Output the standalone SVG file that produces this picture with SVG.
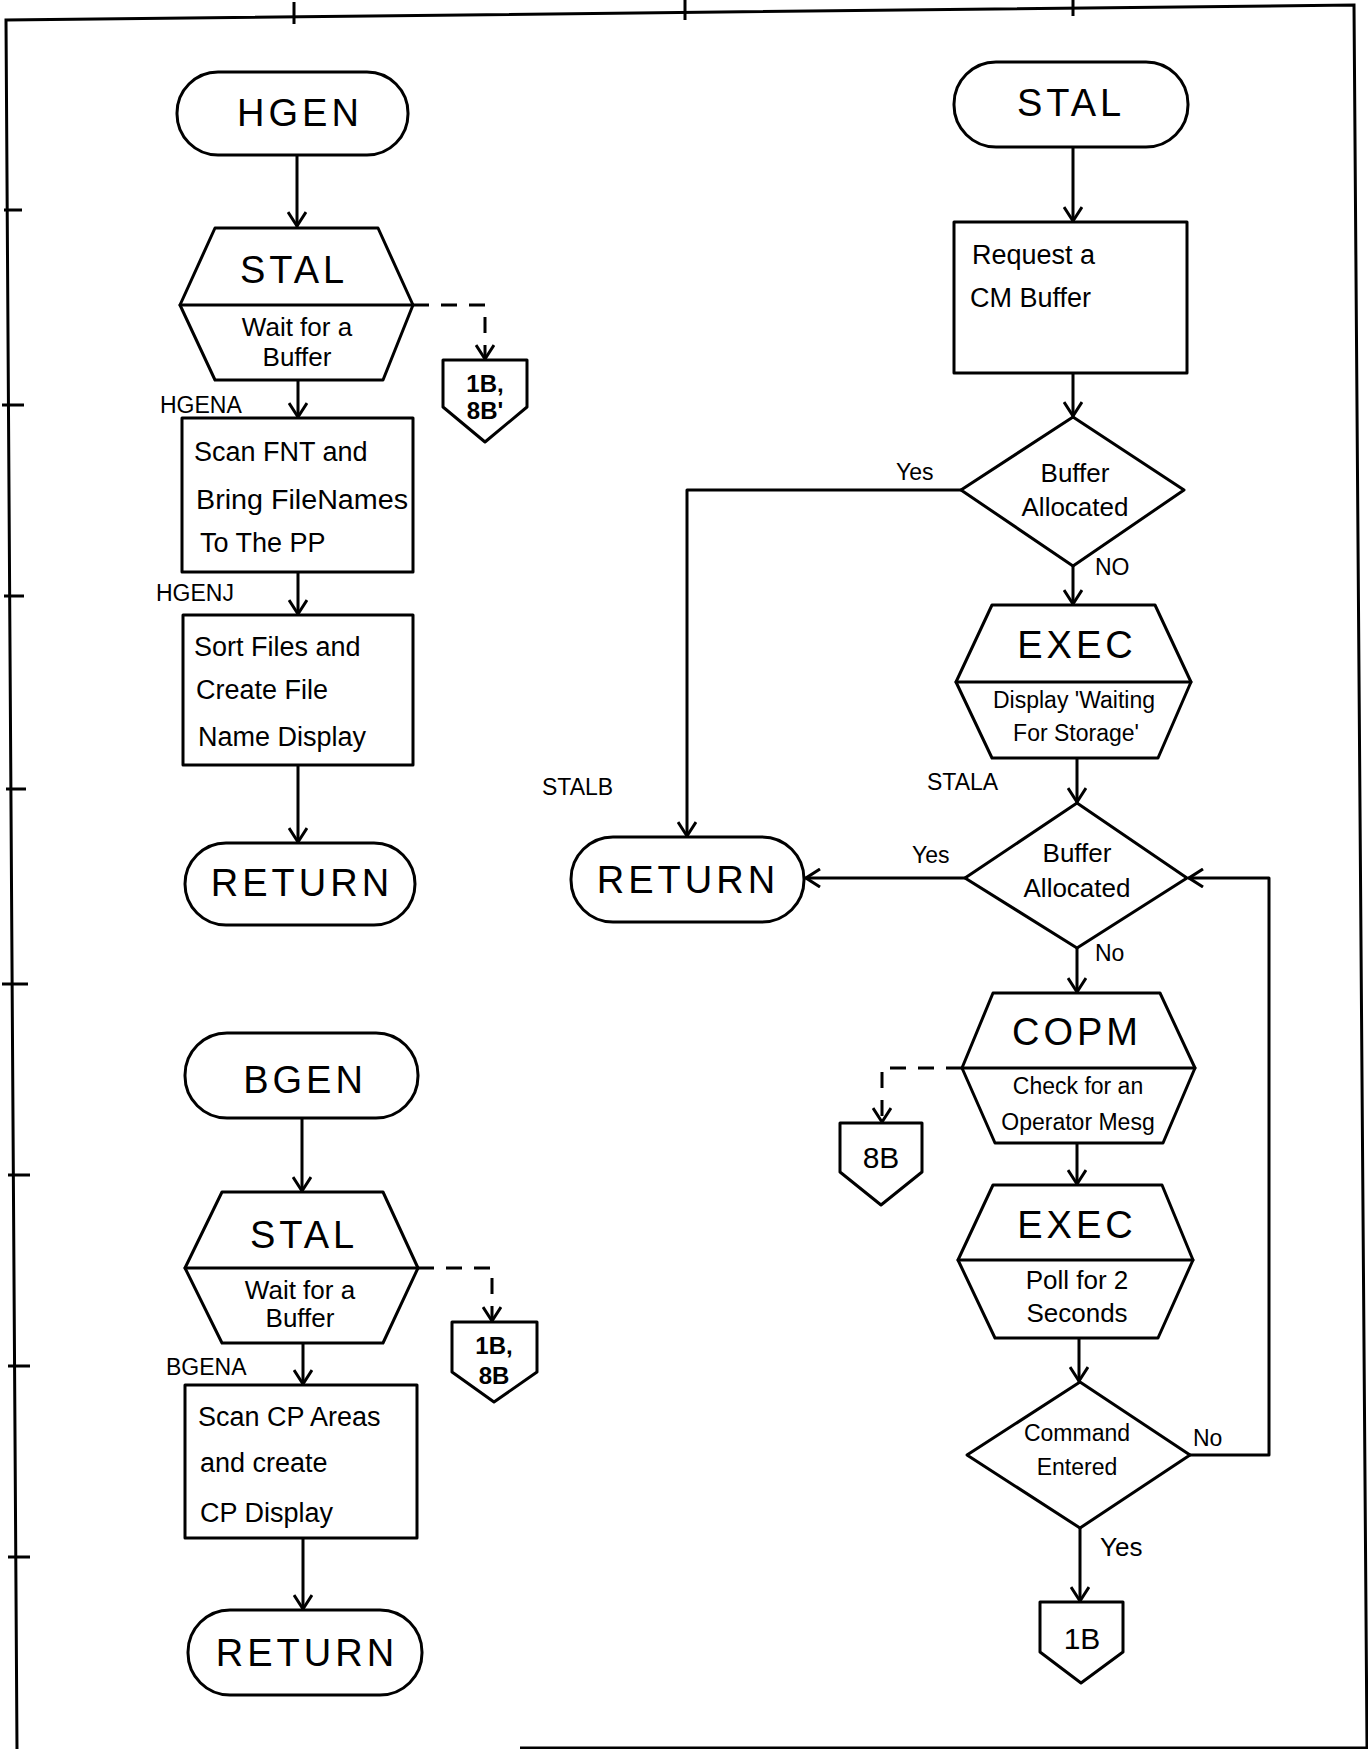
<svg xmlns="http://www.w3.org/2000/svg" width="1368" height="1749" viewBox="0 0 1368 1749">
<style>
.s{fill:none;stroke:#000;stroke-width:3;stroke-linejoin:round;stroke-linecap:round}
.w{fill:#fff;stroke:#000;stroke-width:3;stroke-linejoin:round}
.d{fill:none;stroke:#000;stroke-width:3;stroke-dasharray:16 12}
.b{fill:none;stroke:#000;stroke-width:3}
text{font-family:"Liberation Sans","DejaVu Sans",sans-serif;fill:#000}
.h{font-size:38px;text-anchor:middle;dominant-baseline:central;letter-spacing:4px}
.t{font-size:27px;dominant-baseline:central}
.c{font-size:26px;text-anchor:middle;dominant-baseline:central}
.m{font-size:23px;text-anchor:middle;dominant-baseline:central}
.l{font-size:23px;dominant-baseline:central}
.k{font-size:24px;text-anchor:middle;dominant-baseline:central;font-weight:bold}
</style>
<defs>
<marker id="a" markerWidth="16" markerHeight="20" refX="15" refY="10" orient="auto" markerUnits="userSpaceOnUse">
<path d="M1,1 L15,10 L1,19" fill="none" stroke="#000" stroke-width="3"/>
</marker>
</defs>
<rect width="1368" height="1749" fill="#fff"/>
<g id="page-border">
<path class="b" d="M17,1749 L6,20 L1354,5 L1367,1748 L520,1748"/>
<path class="b" d="M294,2 V24 M685,0 V20 M1073,0 V16"/>
<path class="b" d="M4,210 H22 M2,405 H24 M4,596 H24 M6,789 H26 M2,984 H28 M8,1175 H30 M8,1366 H30 M8,1557 H30"/>
</g>
<g id="connectors">
<path class="s" d="M297,155 V226" marker-end="url(#a)"/>
<path class="s" d="M298,380 V417" marker-end="url(#a)"/>
<path class="s" d="M298,572 V614" marker-end="url(#a)"/>
<path class="s" d="M298,765 V842" marker-end="url(#a)"/>
<path class="d" d="M413,305 H485 V359" marker-end="url(#a)"/>
<path class="s" d="M302,1118 V1191" marker-end="url(#a)"/>
<path class="s" d="M303,1343 V1384" marker-end="url(#a)"/>
<path class="s" d="M303,1538 V1609" marker-end="url(#a)"/>
<path class="d" d="M418,1268 H492 V1321" marker-end="url(#a)"/>
<path class="s" d="M1073,147 V221" marker-end="url(#a)"/>
<path class="s" d="M1073,373 V416" marker-end="url(#a)"/>
<path class="s" d="M961,490 H687 V836" marker-end="url(#a)"/>
<path class="s" d="M1073,566 V604" marker-end="url(#a)"/>
<path class="s" d="M1077,758 V802" marker-end="url(#a)"/>
<path class="s" d="M965,878 H806" marker-end="url(#a)"/>
<path class="s" d="M1077,948 V992" marker-end="url(#a)"/>
<path class="d" d="M962,1068 H882 V1122" marker-end="url(#a)"/>
<path class="s" d="M1077,1143 V1184" marker-end="url(#a)"/>
<path class="s" d="M1079,1338 V1381" marker-end="url(#a)"/>
<path class="s" d="M1190,1455 H1269 V878 H1189" marker-end="url(#a)"/>
<path class="s" d="M1080,1528 V1601" marker-end="url(#a)"/>
<text class="l" x="896" y="472">Yes</text>
<text class="l" x="1095" y="567">NO</text>
<text class="l" x="912" y="855">Yes</text>
<text class="l" x="1095" y="953">No</text>
<text class="l" x="1193" y="1438">No</text>
<text class="l" x="1100" y="1547" style="font-size:26px">Yes</text>
</g>
<g id="hgen">
<rect class="w" x="177" y="72" width="231" height="83" rx="41"/>
<text class="h" x="300" y="113">HGEN</text>
</g>
<g id="stal-hgen">
<polygon class="w" points="215,228 378,228 413,305 383,380 215,380 180,305"/>
<line class="s" x1="180" y1="305" x2="413" y2="305"/>
<text class="h" x="294" y="270">STAL</text>
<text class="c" x="297" y="327">Wait for a</text>
<text class="c" x="297" y="357">Buffer</text>
</g>
<g id="conn-1b8b-a">
<polygon class="w" points="443,360 527,360 527,407 485,442 443,407"/>
<text class="k" x="485" y="383">1B,</text>
<text class="k" x="485" y="410">8B'</text>
</g>
<text class="l" x="160" y="405">HGENA</text>
<g id="scan-fnt">
<rect class="w" x="182" y="418" width="231" height="154"/>
<text class="t" x="194" y="452">Scan FNT and</text>
<text class="t" x="196" y="500" textLength="212" lengthAdjust="spacingAndGlyphs">Bring FileNames</text>
<text class="t" x="200" y="543">To The  PP</text>
</g>
<text class="l" x="156" y="593">HGENJ</text>
<g id="sort-files">
<rect class="w" x="183" y="615" width="230" height="150"/>
<text class="t" x="194" y="647">Sort Files and</text>
<text class="t" x="196" y="690">Create  File</text>
<text class="t" x="198" y="737">Name Display</text>
</g>
<g id="return-hgen">
<rect class="w" x="185" y="843" width="230" height="82" rx="41"/>
<text class="h" x="302" y="883">RETURN</text>
</g>
<g id="bgen">
<rect class="w" x="185" y="1033" width="233" height="85" rx="42"/>
<text class="h" x="305" y="1080">BGEN</text>
</g>
<g id="stal-bgen">
<polygon class="w" points="222,1192 383,1192 418,1268 383,1343 222,1343 185,1268"/>
<line class="s" x1="185" y1="1268" x2="418" y2="1268"/>
<text class="h" x="304" y="1235">STAL</text>
<text class="c" x="300" y="1290">Wait for a</text>
<text class="c" x="300" y="1318">Buffer</text>
</g>
<g id="conn-1b8b-b">
<polygon class="w" points="452,1322 537,1322 537,1372 494,1402 452,1372"/>
<text class="k" x="494" y="1345">1B,</text>
<text class="k" x="494" y="1375">8B</text>
</g>
<text class="l" x="166" y="1367">BGENA</text>
<g id="scan-cp">
<rect class="w" x="185" y="1385" width="232" height="153"/>
<text class="t" x="198" y="1417">Scan CP Areas</text>
<text class="t" x="200" y="1463">and create</text>
<text class="t" x="200" y="1513">CP  Display</text>
</g>
<g id="return-bgen">
<rect class="w" x="188" y="1610" width="234" height="85" rx="42"/>
<text class="h" x="307" y="1653">RETURN</text>
</g>
<g id="stal">
<rect class="w" x="954" y="62" width="234" height="85" rx="42"/>
<text class="h" x="1071" y="103">STAL</text>
</g>
<g id="request-buffer">
<rect class="w" x="954" y="222" width="233" height="151"/>
<text class="t" x="972" y="255">Request a</text>
<text class="t" x="970" y="298">CM  Buffer</text>
</g>
<g id="buffer-allocated-1">
<polygon class="w" points="1073,417 1184,490 1073,566 961,490"/>
<text class="c" x="1075" y="473">Buffer</text>
<text class="c" x="1075" y="507">Allocated</text>
</g>
<g id="exec-display">
<polygon class="w" points="992,605 1155,605 1191,682 1158,758 992,758 956,682"/>
<line class="s" x1="956" y1="682" x2="1191" y2="682"/>
<text class="h" x="1077" y="645">EXEC</text>
<text class="m" x="1074" y="700">Display 'Waiting</text>
<text class="m" x="1076" y="733">For Storage'</text>
</g>
<text class="l" x="927" y="782">STALA</text>
<text class="l" x="542" y="787">STALB</text>
<g id="return-stal">
<rect class="w" x="571" y="837" width="233" height="85" rx="42"/>
<text class="h" x="688" y="880">RETURN</text>
</g>
<g id="buffer-allocated-2">
<polygon class="w" points="1077,803 1187,878 1077,948 965,878"/>
<text class="c" x="1077" y="853">Buffer</text>
<text class="c" x="1077" y="888">Allocated</text>
</g>
<g id="copm">
<polygon class="w" points="993,993 1160,993 1195,1068 1163,1143 995,1143 962,1068"/>
<line class="s" x1="962" y1="1068" x2="1195" y2="1068"/>
<text class="h" x="1077" y="1032">COPM</text>
<text class="m" x="1078" y="1086">Check for an</text>
<text class="m" x="1078" y="1122">Operator Mesg</text>
</g>
<g id="conn-8b">
<polygon class="w" points="840,1123 922,1123 922,1172 881,1205 840,1172"/>
<text class="c" x="881" y="1157" style="font-size:30px">8B</text>
</g>
<g id="exec-poll">
<polygon class="w" points="993,1185 1162,1185 1193,1260 1158,1338 995,1338 958,1260"/>
<line class="s" x1="958" y1="1260" x2="1193" y2="1260"/>
<text class="h" x="1077" y="1225">EXEC</text>
<text class="c" x="1077" y="1280">Poll for 2</text>
<text class="c" x="1077" y="1313">Seconds</text>
</g>
<g id="command-entered">
<polygon class="w" points="1080,1382 1190,1455 1080,1528 967,1455"/>
<text class="m" x="1077" y="1433">Command</text>
<text class="m" x="1077" y="1467">Entered</text>
</g>
<g id="conn-1b">
<polygon class="w" points="1040,1602 1123,1602 1123,1652 1081,1683 1040,1652"/>
<text class="c" x="1082" y="1638" style="font-size:30px">1B</text>
</g>
</svg>
